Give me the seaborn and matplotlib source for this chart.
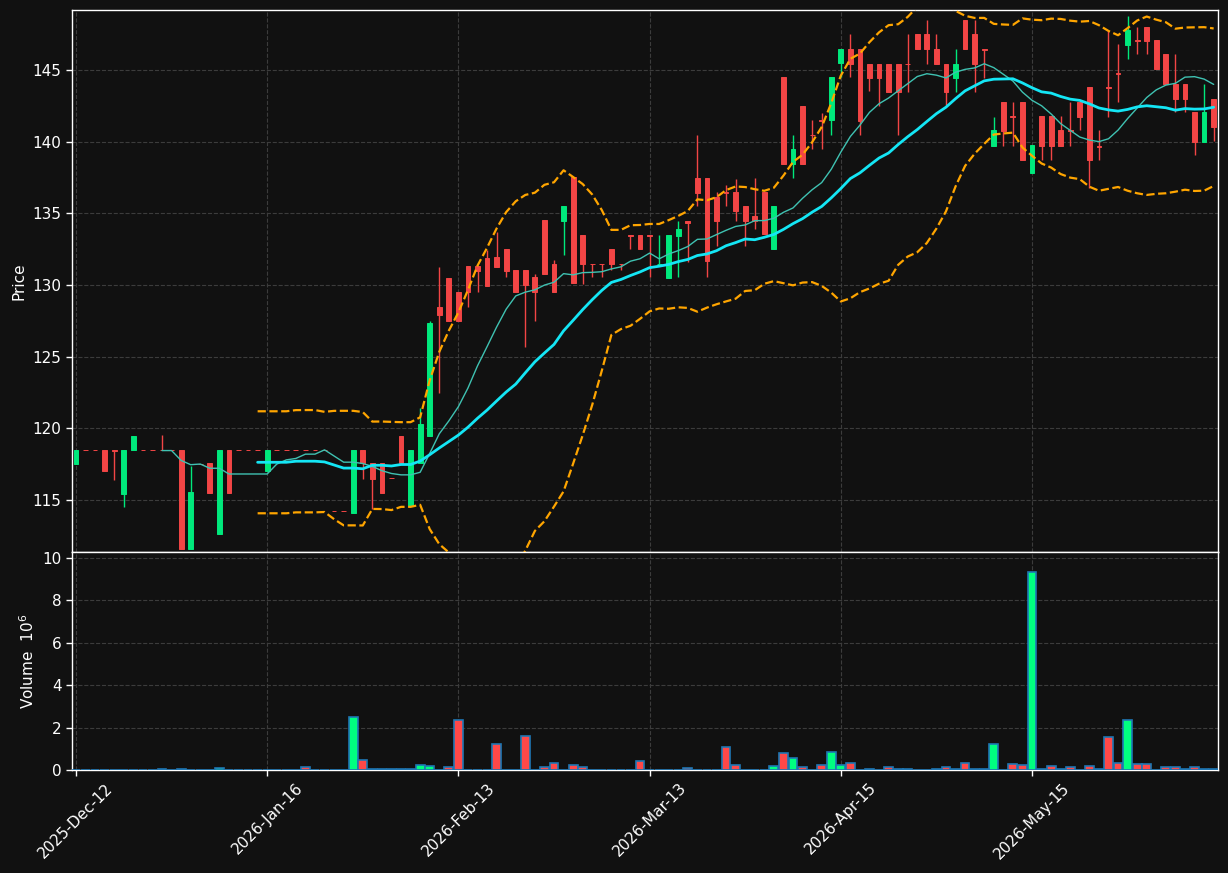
#!/usr/bin/env python3
"""Candlestick chart with 10/20 moving averages, Bollinger bands and volume."""

import matplotlib

matplotlib.use("Agg")
import matplotlib.pyplot as plt
import numpy as np
import pandas as pd
import seaborn as sns

BG = "#111111"
UP = "#00e97c"
DOWN = "#f24545"
MA10_COLOR = "#3fc2b2"
MA20_COLOR = "#14e6f5"
BB_COLOR = "#ffa500"
GRID = "#3c3c3c"

DATE_LABELS = ["2025-Dec-12", "2026-Jan-16", "2026-Feb-13",
               "2026-Mar-13", "2026-Apr-15", "2026-May-15"]
DATE_POS = [0, 20, 40, 60, 80, 100]

opens = [
    117.5, 118.5, 118.5, 118.5, 118.5, 115.4, 118.5, 118.5, 118.5, 118.5,
    118.5, 118.5, 111.6, 117.5, 117.55, 112.6, 118.5, 118.5, 118.5, 118.5,
    117.0, 118.5, 118.5, 118.5, 118.5, 118.5, 118.5, 114.2, 114.2, 114.1,
    118.5, 117.55, 117.55, 116.55, 119.5, 114.6, 117.55, 119.5, 128.5, 130.5,
    129.5, 131.3, 131.3, 131.9, 131.95, 132.5, 131.05, 131.05, 130.55, 134.55,
    131.5, 134.5, 137.55, 133.5, 131.5, 131.5, 132.5, 131.5, 133.5, 133.5,
    133.5, 131.45, 130.5, 133.45, 134.5, 137.5, 137.5, 136.15, 136.5, 136.5,
    135.5, 134.8, 136.5, 132.5, 144.5, 138.45, 142.5, 140.5, 141.5, 141.5,
    145.5, 146.45, 146.45, 145.45, 145.45, 145.45, 145.45, 145.45, 147.5, 147.5,
    146.45, 145.45, 144.45, 148.5, 147.5, 146.45, 139.7, 142.75, 141.8, 142.75,
    137.8, 141.8, 141.8, 140.8, 140.8, 142.8, 143.8, 139.7, 143.8, 144.8,
    146.75, 147.1, 148.05, 147.1, 146.1, 144.05, 144.05, 142.05, 140.0, 143.0,
]
highs = [
    118.5, 118.5, 118.5, 118.5, 118.5, 118.5, 119.5, 118.5, 118.5, 119.55,
    118.5, 118.5, 117.35, 117.5, 117.55, 118.5, 118.5, 118.5, 118.5, 118.5,
    118.5, 118.5, 118.5, 118.5, 118.5, 118.5, 118.5, 114.2, 114.2, 118.5,
    118.5, 117.55, 117.55, 116.55, 119.5, 118.5, 121.45, 127.5, 131.25, 130.5,
    129.5, 131.3, 131.3, 132.45, 133.7, 132.5, 131.05, 131.05, 130.8, 134.55,
    131.75, 135.5, 137.55, 133.5, 131.5, 131.5, 132.5, 131.5, 133.5, 133.5,
    133.5, 133.5, 133.5, 134.5, 134.5, 140.45, 137.5, 136.5, 137.0, 137.4,
    135.5, 137.5, 136.5, 135.5, 144.5, 140.5, 142.5, 141.5, 142.0, 144.5,
    146.45, 147.5, 146.45, 145.45, 145.45, 145.45, 145.45, 147.5, 147.5, 148.5,
    147.5, 145.45, 146.45, 148.5, 148.5, 146.45, 141.75, 142.75, 142.75, 142.75,
    139.75, 141.8, 141.8, 141.8, 142.8, 142.8, 143.8, 140.8, 147.75, 146.85,
    148.75, 148.05, 148.05, 147.1, 146.1, 146.1, 144.05, 142.05, 144.05, 143.0,
]
lows = [
    117.5, 118.5, 118.5, 117.05, 116.4, 114.5, 118.5, 118.5, 118.5, 118.5,
    118.5, 111.6, 111.6, 117.5, 115.5, 112.6, 115.5, 118.5, 118.5, 118.5,
    117.0, 118.5, 118.5, 118.5, 118.5, 118.5, 118.5, 114.2, 114.2, 114.1,
    116.5, 114.4, 115.5, 116.55, 117.55, 114.6, 117.55, 119.5, 122.5, 127.5,
    127.5, 128.5, 129.5, 129.95, 131.25, 130.55, 129.5, 125.7, 127.5, 130.8,
    129.5, 132.1, 130.15, 130.1, 130.6, 130.6, 131.05, 131.05, 132.5, 132.5,
    130.6, 131.45, 130.5, 130.55, 131.6, 135.55, 130.55, 132.7, 135.5, 134.5,
    132.75, 133.9, 133.55, 132.5, 138.45, 137.5, 138.45, 139.5, 139.5, 140.5,
    144.5, 144.5, 140.5, 143.55, 142.5, 143.5, 140.5, 143.5, 146.45, 145.45,
    145.45, 142.55, 143.5, 146.45, 143.5, 144.45, 139.7, 139.7, 139.7, 138.7,
    137.8, 138.75, 138.75, 139.7, 139.7, 140.8, 136.75, 138.7, 141.75, 142.8,
    145.75, 146.1, 146.1, 145.05, 144.05, 142.05, 142.05, 139.05, 140.0, 140.05,
]
closes = [
    118.5, 118.5, 118.5, 117.05, 118.45, 118.5, 119.5, 118.5, 118.5, 118.5,
    118.5, 111.6, 115.55, 117.5, 115.5, 118.5, 115.5, 118.5, 118.5, 118.5,
    118.5, 118.5, 118.5, 118.5, 118.5, 118.5, 118.5, 114.2, 114.2, 118.5,
    117.55, 116.5, 115.5, 116.55, 117.55, 118.5, 120.3, 127.35, 127.9, 127.5,
    127.5, 129.5, 131.0, 129.95, 131.25, 131.0, 129.5, 130.0, 129.5, 130.8,
    129.5, 135.5, 130.15, 131.5, 131.45, 131.45, 131.45, 131.45, 133.45, 132.5,
    133.45, 131.5, 133.5, 133.9, 134.3, 136.45, 131.7, 134.5, 136.45, 135.2,
    134.5, 134.5, 133.55, 135.5, 138.45, 139.5, 138.45, 140.45, 141.45, 144.5,
    146.45, 145.45, 141.45, 144.45, 144.45, 143.5, 143.5, 145.4, 146.45, 146.45,
    145.45, 143.5, 145.45, 146.45, 145.45, 146.4, 140.8, 140.75, 141.75, 138.7,
    139.75, 139.7, 139.7, 139.7, 140.75, 141.75, 138.7, 139.65, 143.75, 144.75,
    147.8, 147.05, 147.05, 145.05, 144.05, 143.0, 143.0, 140.0, 142.05, 141.05,
]
# volume in millions
volumes = [
    0, 0, 0, 0, 0, 0, 0, 0, 0, 0.03,
    0, 0.03, 0, 0, 0, 0.08, 0, 0, 0, 0,
    0, 0, 0, 0, 0.16, 0, 0, 0, 0, 2.5,
    0.46, 0.03, 0.03, 0.03, 0.03, 0.03, 0.22, 0.17, 0.02, 0.13,
    2.35, 0.02, 0.02, 0, 1.22, 0, 0, 1.6, 0.02, 0.13,
    0.32, 0, 0.22, 0.13, 0, 0, 0, 0, 0, 0.41,
    0, 0, 0.02, 0.02, 0.08, 0.02, 0, 0.02, 1.07, 0.22,
    0.02, 0.02, 0, 0.17, 0.79, 0.55, 0.13, 0.02, 0.22, 0.84,
    0.22, 0.32, 0.02, 0.06, 0.02, 0.13, 0.06, 0.06, 0.01, 0.01,
    0.06, 0.13, 0.06, 0.32, 0.06, 0.06, 1.22, 0.02, 0.27, 0.22,
    9.32, 0.06, 0.17, 0.06, 0.13, 0.01, 0.17, 0.06, 1.55, 0.32,
    2.35, 0.27, 0.27, 0.01, 0.13, 0.13, 0.06, 0.13, 0.06, 0.06,
]


def style_axis(ax):
    ax.set_facecolor(BG)
    for side in ("left", "bottom", "right", "top"):
        ax.spines[side].set_visible(True)
        ax.spines[side].set_color("white")
        ax.spines[side].set_linewidth(1.0)
    ax.grid(True, color=GRID, linestyle="--", linewidth=0.8)
    ax.set_axisbelow(True)
    ax.tick_params(colors="white", labelcolor="white", labelsize=11,
                   direction="out", length=4, width=1, left=True, bottom=True)


def main() -> None:
    sns.set_theme(style="dark")
    plt.rcParams["font.family"] = ["DejaVu Sans"]

    df = pd.DataFrame({"open": opens, "high": highs, "low": lows,
                       "close": closes, "volume": volumes})
    df["idx"] = np.arange(len(df))
    df["dir"] = np.where(df["close"] > df["open"], "up", "down")
    df["ma10"] = df["close"].rolling(10).mean()
    df["ma20"] = df["close"].rolling(20).mean()
    std20 = df["close"].rolling(20).std(ddof=0)
    df["bb_up"] = df["ma20"] + 2 * std20
    df["bb_lo"] = df["ma20"] - 2 * std20

    colors = [UP if d == "up" else DOWN for d in df["dir"]]

    fig = plt.figure(figsize=(12.28, 8.73), dpi=100, facecolor=BG)
    ax = fig.add_axes([0.0586, 0.3677, 0.9333, 0.6208])
    axv = fig.add_axes([0.0586, 0.1180, 0.9333, 0.2497], sharex=ax)
    style_axis(ax)
    style_axis(axv)

    # candles
    ax.vlines(df["idx"], df["low"], df["high"], colors=colors,
              linewidth=1.0, zorder=2)
    body_lo = np.minimum(df["open"], df["close"])
    body_h = np.abs(df["close"] - df["open"])
    ax.bar(df["idx"], body_h, bottom=body_lo, width=0.5, color=colors,
           edgecolor=colors, linewidth=0.7, zorder=3)

    # moving averages and Bollinger bands
    sns.lineplot(data=df, x="idx", y="ma10", color=MA10_COLOR, linewidth=1.0,
                 ax=ax, zorder=4)
    sns.lineplot(data=df, x="idx", y="ma20", color=MA20_COLOR, linewidth=2.0,
                 ax=ax, zorder=4)
    for col in ("bb_up", "bb_lo"):
        sns.lineplot(data=df, x="idx", y=col, color=BB_COLOR, linewidth=1.6,
                     linestyle="--", ax=ax, zorder=4)

    ax.set_ylim(111.37, 149.2)
    ax.set_yticks([115, 120, 125, 130, 135, 140, 145])
    ax.set_ylabel("Price", color="white", fontsize=11)
    ax.set_xlabel("")
    ax.tick_params(axis="x", labelbottom=False, bottom=False)

    # volume
    sns.barplot(data=df, x="idx", y="volume", hue="dir",
                palette={"up": "#00ff80", "down": "#ff4848"},
                native_scale=True, width=0.92, saturation=1,
                edgecolor="#1f77b4", linewidth=1.2, errorbar=None,
                legend=False, ax=axv, zorder=3)
    axv.set_ylim(0, 10.28)
    axv.set_yticks([0, 2, 4, 6, 8, 10])
    axv.set_ylabel("Volume  $10^{6}$", color="white", fontsize=11)
    axv.set_xlabel("")

    ax.set_xlim(-0.42, 119.46)
    axv.set_xlim(-0.42, 119.46)
    axv.set_xticks(DATE_POS)
    axv.set_xticklabels(DATE_LABELS, rotation=45, ha="center",
                        color="white", fontsize=11)
    axv.grid(True, color=GRID, linestyle="--", linewidth=0.8)

    fig.savefig("out.png", dpi=100, facecolor=BG)
    plt.close(fig)


if __name__ == "__main__":
    main()
